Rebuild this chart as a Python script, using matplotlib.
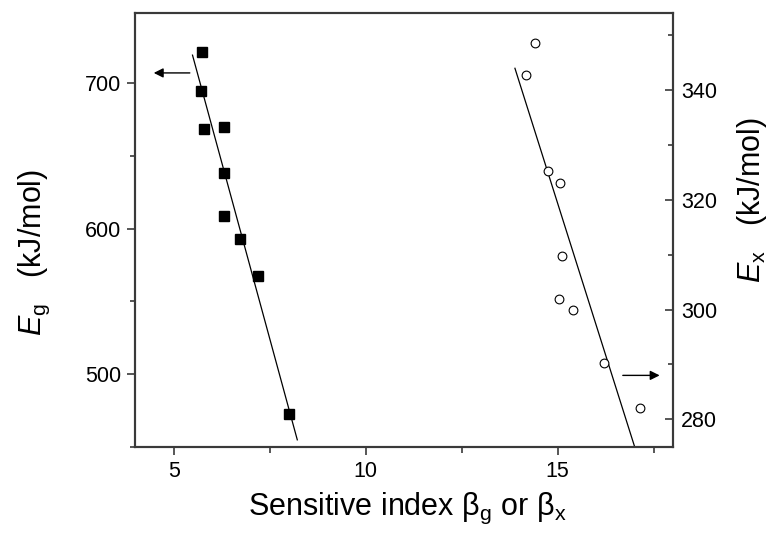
import numpy as np
import matplotlib
matplotlib.use("Agg")
import matplotlib.pyplot as plt
from matplotlib.ticker import MultipleLocator

plt.rcParams['font.family'] = ['Liberation Sans', 'DejaVu Sans']
plt.rcParams['mathtext.fontset'] = 'custom'
plt.rcParams['mathtext.rm'] = 'Liberation Sans'
plt.rcParams['mathtext.it'] = 'Liberation Sans:italic'
plt.rcParams['mathtext.bf'] = 'Liberation Sans:bold'

# E_g versus beta_g (left axis, filled squares)
beta_g = [5.75, 5.71, 5.79, 6.30, 6.30, 6.30, 6.73, 7.19, 8.00]
E_g = [721.7, 694.7, 668.3, 670.1, 638.1, 608.9, 592.6, 567.4, 472.2]

# E_x versus beta_x (right axis, open circles)
beta_x = [14.41, 14.18, 14.74, 15.07, 15.11, 15.04, 15.39, 16.21, 17.15]
E_x = [348.6, 342.8, 325.3, 323.1, 309.8, 302.0, 299.9, 290.3, 282.1]

# span of the fitted lines
fit_g_range = (5.49, 8.22)
fit_x_range = (13.89, 17.05)

spine_col = '#3a3a3a'

fig = plt.figure(figsize=(7.75, 5.36), dpi=100)
ax = fig.add_axes([0.1746, 0.1666, 0.6934, 0.8086])
ax2 = ax.twinx()

# linear fits
pg = np.polyfit(beta_g, E_g, 1)
px = np.polyfit(beta_x, E_x, 1)
xg = np.array(fit_g_range)
xx = np.array(fit_x_range)

ax.plot(xg, np.polyval(pg, xg), color='black', lw=0.9, zorder=2)
ax.plot(beta_g, E_g, linestyle='none', marker='s', ms=7.2,
        mfc='black', mec='black', zorder=3)

ax2.plot(xx, np.polyval(px, xx), color='black', lw=0.9, zorder=2)
ax2.plot(beta_x, E_x, linestyle='none', marker='o', ms=6.3,
         mfc='white', mec='black', mew=0.8, zorder=3)

ax.set_xlim(4, 18)
ax.set_ylim(450, 748)
ax2.set_ylim(275, 354)

# arrows pointing to the relevant axis
ax.annotate('', xy=(4.48, 707), xytext=(5.42, 707),
            arrowprops=dict(arrowstyle='-|>', color='black', lw=1.0,
                            mutation_scale=14, shrinkA=0, shrinkB=0))
ax2.annotate('', xy=(17.66, 288), xytext=(16.70, 288),
             arrowprops=dict(arrowstyle='-|>', color='black', lw=1.0,
                             mutation_scale=14, shrinkA=0, shrinkB=0))

for a in (ax, ax2):
    for s in a.spines.values():
        s.set_color(spine_col)
        s.set_linewidth(1.5)

ax.xaxis.set_major_locator(MultipleLocator(5))
ax.xaxis.set_minor_locator(MultipleLocator(2.5))
ax.yaxis.set_major_locator(MultipleLocator(100))
ax.yaxis.set_minor_locator(MultipleLocator(50))
ax2.yaxis.set_major_locator(MultipleLocator(20))
ax2.yaxis.set_minor_locator(MultipleLocator(10))

ax.tick_params(axis='x', which='major', direction='out', length=6, width=1.2,
               color=spine_col, labelsize=15.5, pad=4, top=False)
ax.tick_params(axis='x', which='minor', direction='out', length=4, width=1.2,
               color=spine_col, top=False)
ax.tick_params(axis='y', which='major', direction='out', length=6, width=1.2,
               color=spine_col, labelsize=15.5, pad=4, right=False)
ax.tick_params(axis='y', which='minor', direction='out', length=3.5, width=1.2,
               color=spine_col, right=False)
ax2.tick_params(axis='y', which='major', direction='in', length=6, width=1.2,
                color=spine_col, labelsize=15.5, pad=6)
ax2.tick_params(axis='y', which='minor', direction='in', length=3.5, width=1.2,
                color=spine_col)

fig.text(0.045, 0.529, r'$E_\mathrm{g}$   (kJ/mol)', rotation=90,
         ha='center', va='center', fontsize=22)
fig.text(0.970, 0.627, r'$E_\mathrm{x}$   (kJ/mol)', rotation=90,
         ha='center', va='center', fontsize=22)
fig.text(0.525, 0.052, r'Sensitive index $\mathrm{\beta_g}$ or $\mathrm{\beta_x}$',
         ha='center', va='center', fontsize=22)

fig.savefig('out.png', dpi=100)
